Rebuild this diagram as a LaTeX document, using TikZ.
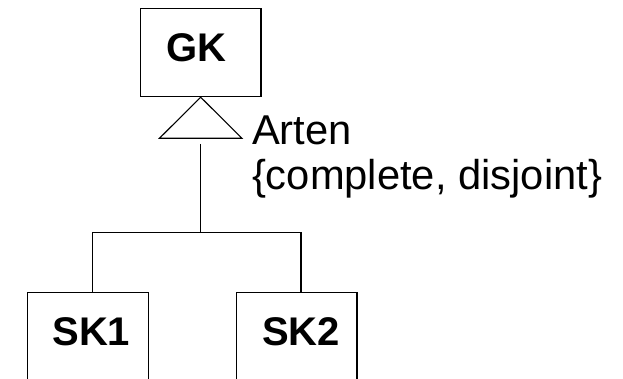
\documentclass[tikz,border=0pt]{standalone}
\usepackage{fontspec}
\setmainfont{Liberation Sans}
\begin{document}
\begin{tikzpicture}[x=1pt,y=-1pt, line width=1.1pt,
  cls/.style={draw, rectangle, minimum width=120.5pt, inner sep=0pt},
  lbl/.style={font=\fontsize{40}{40}\bfseries\selectfont, anchor=base, inner sep=0pt},
  txt/.style={font=\fontsize{41.7}{41.7}\selectfont, anchor=base west, inner sep=0pt}]
\useasboundingbox (0,0) rectangle (623,379);
\clip (0,0) rectangle (623,379);
% classes
\node[cls, minimum height=88.4pt] (gk) at (200.7,52.5) {};
\node[cls, minimum height=127.4pt] (sk1) at (88,356) {};
\node[cls, minimum height=127.4pt] (sk2) at (296.7,356) {};
% class names
\node[lbl] (gkname) at (196.8,61.7) {GK};
\node[lbl] (sk1name) at (91.3,345) {SK1};
\node[lbl] (sk2name) at (301.2,345) {SK2};
% generalization triangle
\coordinate (tl) at (159.4,138.3);
\coordinate (tr) at (242,138.3);
\draw (gk.south) -- (tl) -- (tr) -- cycle;
% stem and fork
\coordinate (stem) at (200.7,144);
\coordinate (fork) at (200.7,232.7);
\draw (stem) -- (fork);
\draw ([xshift=4.3pt]sk1.north) |- (fork) -| ([xshift=4.3pt]sk2.north);
% labels
\node[txt] (arten) at (251.6,144.8) {Arten};
\node[txt] (constraint) at (251.5,189.5) {\{complete, disjoint\}};
\end{tikzpicture}
\end{document}
